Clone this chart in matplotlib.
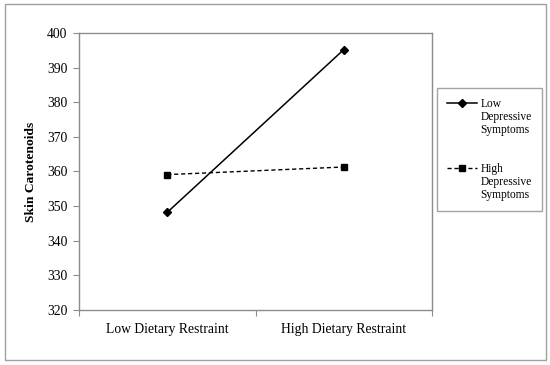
import matplotlib.pyplot as plt
from matplotlib.lines import Line2D
from matplotlib.patches import Rectangle

# data
categories = ["Low Dietary Restraint", "High Dietary Restraint"]
low_dep = [348.2, 395.2]
high_dep = [359.1, 361.3]
y_ticks = [320, 330, 340, 350, 360, 370, 380, 390, 400]

plt.rcParams["font.family"] = ["Liberation Serif", "DejaVu Serif"]
GRAY = "#8c8c8c"

fig = plt.figure(figsize=(5.5, 3.65), dpi=100)
ax = fig.add_axes([79 / 550, 1 - 310 / 365, (432 - 79) / 550, (310 - 33) / 365])

# outer border around the whole chart
fig.patches.append(Rectangle((4.5 / 550, 1 - 360 / 365), 541.5 / 550, 356 / 365,
                             transform=fig.transFigure, fill=False,
                             edgecolor="#a0a0a0", linewidth=1.0))

x = [0.5, 1.5]
ax.plot(x, low_dep, color="black", linestyle="-", linewidth=1.1,
        marker="D", markersize=3.6, label="Low")
ax.plot(x, high_dep, color="black", linestyle=(0, (3, 2)), linewidth=1.0,
        marker="s", markersize=4.5, label="High")

ax.set_xlim(0, 2)
ax.set_ylim(320, 400)
ax.set_yticks(y_ticks)
ax.set_yticklabels([str(v) for v in y_ticks], fontsize=9.8)
ax.set_xticks([0, 1, 2])
ax.set_xticklabels([])
ax.set_xticks(x, minor=True)
ax.set_xticklabels(categories, minor=True, fontsize=9.8)
ax.tick_params(axis="x", which="minor", length=0, pad=9)
ax.tick_params(axis="x", which="major", direction="out", length=4, color=GRAY)
ax.tick_params(axis="y", direction="out", length=4.5, color=GRAY, pad=4)
for s in ax.spines.values():
    s.set_color(GRAY)
    s.set_linewidth(1.0)

ax.set_ylabel("Skin Carotenoids", fontsize=9.7, fontweight="bold", labelpad=7)

# legend: handle sits on first line of each wrapped label
blank = Line2D([], [], linestyle="none")
h_low = Line2D([], [], color="black", linewidth=1.1, marker="D", markersize=3.6)
h_high = Line2D([], [], color="black", linestyle=(0, (3, 2)), linewidth=1.0,
                marker="s", markersize=4.5)
handles = [h_low, blank, blank, blank, blank, h_high, blank, blank]
labels = ["Low", "Depressive", "Symptoms", "", "", "High", "Depressive", "Symptoms"]
leg = fig.legend(handles, labels, loc="upper left",
                 bbox_to_anchor=(437 / 550, 1 - 88 / 365),
                 fontsize=8.3, frameon=True, fancybox=False,
                 handlelength=2.6, handletextpad=0.25, labelspacing=0.08,
                 borderpad=0.9, borderaxespad=0)
leg.get_frame().set_edgecolor(GRAY)
leg.get_frame().set_linewidth(1.0)

fig.savefig("out.png", dpi=100)
